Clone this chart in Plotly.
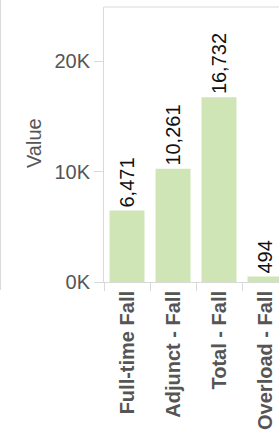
import plotly.graph_objects as go

categories = ["Full-time Fall", "Adjunct - Fall", "Total - Fall", "Overload - Fall"]
values = [6471, 10261, 16732, 494]
value_labels = ["6,471", "10,261", "16,732", "494"]
y_tickvals = [0, 10000, 20000]
y_ticktext = ["0K", "10K", "20K"]

FONT = "Liberation Sans, Arial, sans-serif"
LINE = "#d9d9d9"

fig = go.Figure(go.Bar(
    x=categories, y=values,
    marker=dict(color="#cfe5b6", line=dict(width=0)),
    text=value_labels, textposition="outside", textangle=-90,
    constraintext="none",
    textfont=dict(family=FONT, size=20, color="#111111"),
    cliponaxis=False,
))

fig.update_layout(
    width=279, height=439,
    margin=dict(l=104, r=0, t=7, b=157),
    paper_bgcolor="white", plot_bgcolor="white",
    bargap=0.24, showlegend=False,
    xaxis=dict(
        type="category", range=[-0.5, 3.304],
        showgrid=False, showline=True, linecolor=LINE, linewidth=1,
        ticks="outside", tickson="boundaries", ticklen=8, tickcolor=LINE,
        tickangle=-90,
        tickfont=dict(family=FONT, size=20, color="#555555", weight="bold"),
    ),
    yaxis=dict(
        range=[0, 24890], showgrid=False, zeroline=False,
        showline=True, linecolor=LINE, linewidth=1,
        ticks="outside", ticklen=9, tickcolor=LINE,
        tickvals=y_tickvals, ticktext=y_ticktext,
        tickfont=dict(family=FONT, size=20, color="#555555"),
    ),
    annotations=[dict(
        text="Value", textangle=-90, xref="paper", yref="paper",
        x=(34 - 104) / 175, y=(282 - 143) / 275, showarrow=False,
        xanchor="center", yanchor="middle",
        font=dict(family=FONT, size=20, color="#555555"),
    )],
    shapes=[
        dict(type="line", xref="paper", yref="paper", x0=0, x1=1, y0=1, y1=1,
             line=dict(color=LINE, width=1)),
        dict(type="line", xref="paper", yref="paper",
             x0=(0.5 - 104) / 175, x1=(0.5 - 104) / 175,
             y0=(282 - 0) / 275, y1=(282 - 290) / 275,
             line=dict(color=LINE, width=1)),
    ],
)

fig.write_html("out.html", config={"displayModeBar": False},
               post_script="document.body.style.margin='0';")
